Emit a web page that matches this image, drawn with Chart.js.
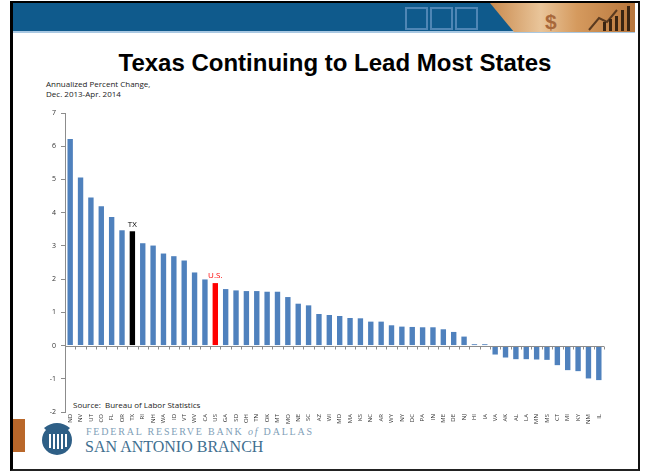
<!DOCTYPE html>
<html>
<head>
<meta charset="utf-8">
<script src="https://cdn.jsdelivr.net/npm/chart.js@4"></script>
<style>
  html,body{margin:0;padding:0;background:#fff;}
  #slide{position:relative;width:645px;height:471px;overflow:hidden;background:#fff;font-family:"Liberation Sans",Arial,sans-serif;}
  .frame{position:absolute;left:10px;top:1px;width:625px;height:466px;border-left:3px solid #000;border-top:2px solid #000;border-right:2px solid #111;border-bottom:2px solid #222;}
  .band{position:absolute;left:13px;top:3px;width:622px;height:28px;background:#0f5a8c;}
  .bandline{position:absolute;left:13px;top:31px;width:622px;height:2px;background:#a9c8e2;}
  .deco{position:absolute;left:490px;top:3px;width:145px;height:29px;
        background:linear-gradient(90deg,#c98a4e 0%,#e9c59a 35%,#d59a5e 60%,#b8763c 100%);
        clip-path:polygon(0 0,100% 0,100% 100%,24px 100%);}
  .dollar{position:absolute;left:545px;top:10px;font-size:21px;font-weight:bold;color:#a8683a;}
  .sq{position:absolute;top:7px;width:19px;height:19px;border:2px solid #4f86b5;}
  .title{position:absolute;left:0;width:670px;top:49px;text-align:center;font-weight:bold;font-size:24px;color:#000;}
  .sub{position:absolute;left:46px;top:79px;font-size:8px;line-height:10px;color:#222;font-family:"Open Sans",sans-serif;}
  .src{position:absolute;left:73px;top:399px;font-size:8px;color:#222;font-family:"Open Sans",sans-serif;}
  .orange{position:absolute;left:13px;top:419px;width:12px;height:33px;background:#b9672a;}
  .fed1{position:absolute;left:86px;top:426px;font-family:"Liberation Serif",serif;font-size:10px;letter-spacing:1.8px;color:#7fa0b8;}
  .fed2{position:absolute;left:85px;top:438px;font-family:"Liberation Serif",serif;font-size:16px;letter-spacing:0px;color:#3f6f90;}
  canvas{position:absolute;left:0;top:0;}
</style>
</head>
<body>
<div id="slide">
  <div class="band"></div>
  <div class="bandline"></div>
  <div class="sq" style="left:405px"></div>
  <div class="sq" style="left:430px"></div>
  <div class="sq" style="left:455px"></div>
  <div class="deco"></div>
  <div class="dollar">$</div>
  <svg style="position:absolute;left:585px;top:4px" width="48" height="28" viewBox="0 0 48 28">
    <path d="M4 26 L14 14 L22 18 L32 6" stroke="#5a3a20" stroke-width="2" fill="none"/>
    <rect x="18" y="18" width="3" height="9" fill="#3a2412"/>
    <rect x="24" y="15" width="3" height="12" fill="#3a2412"/>
    <rect x="30" y="12" width="3" height="15" fill="#3a2412"/>
    <rect x="36" y="6" width="3" height="21" fill="#3a2412"/>
    <rect x="42" y="2" width="3" height="25" fill="#3a2412"/>
  </svg>
  <div class="frame"></div>
  <div class="title">Texas Continuing to Lead Most States</div>
  <div class="sub">Annualized Percent Change,<br>Dec. 2013-Apr. 2014</div>
  <div class="src">Source:&nbsp; Bureau of Labor Statistics</div>
  <div class="orange"></div>
  <svg style="position:absolute;left:40px;top:418px" width="34" height="38" viewBox="0 0 34 38">
    <circle cx="17" cy="22" r="15" fill="#2e5f86"/>
    <path d="M4 10 Q17 0 30 10 L26 14 Q17 8 8 14 Z" fill="#2e5f86"/>
    <rect x="9" y="16" width="2" height="14" fill="#fff"/>
    <rect x="13" y="16" width="2" height="15" fill="#fff"/>
    <rect x="17" y="16" width="2" height="15" fill="#fff"/>
    <rect x="21" y="16" width="2" height="15" fill="#fff"/>
    <rect x="25" y="16" width="2" height="13" fill="#fff"/>
  </svg>
  <div class="fed1">FEDERAL RESERVE BANK <i>of</i> DALLAS</div>
  <div class="fed2">SAN ANTONIO BRANCH</div>
  <canvas id="chart" width="645" height="471"></canvas>
</div>
<script>
const states = ['ND','NV','UT','CO','FL','OR','TX','RI','NH','WA','ID','VT','WV','CA','US','GA','SD','OH','TN','OK',
  'MT','MO','NE','SC','AZ','WI','MD','MA','KS','NC','AR','WY','NY','DC','PA','IN','ME','DE','NJ','HI',
  'IA','VA','AK','AL','LA','MN','MS','CT','MI','KY','NM','IL'];
const pctChange = [6.22,5.06,4.46,4.19,3.87,3.47,3.44,3.08,3.01,2.77,2.69,2.56,2.20,1.99,1.88,1.70,1.66,1.64,1.64,1.62,
  1.62,1.46,1.26,1.21,0.95,0.92,0.89,0.83,0.82,0.72,0.72,0.61,0.57,0.56,0.55,0.55,0.49,0.41,0.27,0.04,
  0.04,-0.27,-0.36,-0.41,-0.41,-0.42,-0.43,-0.59,-0.74,-0.77,-0.99,-1.04];
const highlights = {TX:{color:'#000000', text:'TX'}, US:{color:'#ff0000', text:'U.S.'}};

const barColors = states.map(s => highlights[s] ? highlights[s].color : '#4f81bd');

// zero line, category tick marks and TX / U.S. tags
const extras = {
  id:'extras',
  afterDatasetsDraw(chart){
    const {ctx, chartArea:a, scales:{x,y}} = chart;
    const y0 = Math.round(y.getPixelForValue(0)) + 0.5;
    ctx.save();
    ctx.strokeStyle = '#8c8c8c'; ctx.lineWidth = 1;
    ctx.beginPath(); ctx.moveTo(a.left, y0); ctx.lineTo(a.right, y0);
    const step = (a.right - a.left) / states.length;
    for(let i=0;i<=states.length;i++){
      const px = Math.round(a.left + i*step) + 0.5;
      ctx.moveTo(px, y0); ctx.lineTo(px, y0+3);
    }
    ctx.stroke();
    const meta = chart.getDatasetMeta(0);
    ctx.font = '8px "Open Sans", sans-serif';
    ctx.textAlign = 'center'; ctx.textBaseline = 'bottom';
    states.forEach((s,i)=>{
      if(!highlights[s]) return;
      const bar = meta.data[i];
      ctx.fillStyle = highlights[s].color;
      ctx.fillText(highlights[s].text, bar.x, bar.y - 3);
    });
    ctx.restore();
  }
};

new Chart(document.getElementById('chart'), {
  type:'bar',
  data:{ labels:states, datasets:[{ data:pctChange, backgroundColor:barColors,
    barPercentage:0.52, categoryPercentage:1.0 }] },
  options:{
    responsive:false, animation:false,
    layout:{ padding:{left:35, right:41, top:113, bottom:34} },
    plugins:{ legend:{display:false}, tooltip:{enabled:false} },
    scales:{
      x:{
        grid:{display:false, drawTicks:false, tickLength:0}, border:{display:false},
        ticks:{ autoSkip:false, minRotation:90, maxRotation:90, padding:2,
          color:'#333', font:{family:'"Open Sans", sans-serif', size:6} },
        afterFit(s){ s.height = 25; }
      },
      y:{
        min:-2, max:7,
        grid:{ drawOnChartArea:false, tickLength:4, color:'#8c8c8c' },
        border:{ display:true, color:'#8c8c8c' },
        ticks:{ stepSize:1, padding:5, color:'#333', font:{family:'"Open Sans", sans-serif', size:7} },
        afterFit(s){ s.width = 30; }
      }
    }
  },
  plugins:[extras]
});
</script>
</body>
</html>
